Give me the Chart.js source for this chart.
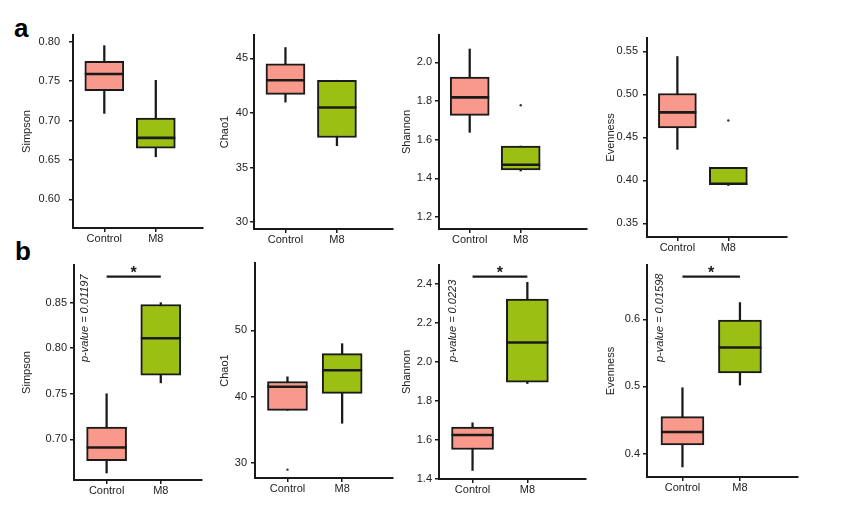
<!DOCTYPE html>
<html>
<head>
<meta charset="utf-8">
<script src="https://cdn.jsdelivr.net/npm/chart.js@4.4.1/dist/chart.umd.min.js"></script>
<style>
  html, body { margin: 0; padding: 0; background: #fff; }
  #wrap { position: relative; width: 842px; height: 514px; overflow: hidden; font-family: "Liberation Sans", Arial, sans-serif; }
  #wrap canvas { position: absolute; }
  .tag { position: absolute; font-weight: bold; font-size: 26px; line-height: 1; color: #000; }
</style>
</head>
<body>
<div id="wrap">
  <div class="tag" style="left:14px;top:15px">a</div>
  <div class="tag" style="left:15px;top:238px">b</div>
</div>
<script>
const groups = ["Control", "M8"];

// [lower whisker, Q1, median, Q3, upper whisker]
const aSimpsonControl = [0.709, 0.738, 0.759, 0.775, 0.795];
const aSimpsonM8 = [0.654, 0.665, 0.678, 0.703, 0.751];
const aChao1Control = [41.0, 41.7, 43.0, 44.5, 46.0];
const aChao1M8 = [37.0, 37.75, 40.5, 43.0, 43.0];
const aShannonControl = [1.638, 1.726, 1.819, 1.924, 2.069];
const aShannonM8 = [1.438, 1.443, 1.470, 1.567, 1.567];
const aEvennessControl = [0.436, 0.461, 0.479, 0.501, 0.544];
const aEvennessM8 = [0.394, 0.395, 0.396, 0.415, 0.415];

const bSimpsonControl = [0.663, 0.6765, 0.691, 0.7135, 0.750];
const bSimpsonM8 = [0.762, 0.7705, 0.811, 0.848, 0.850];
const bChao1Control = [37.95, 37.95, 41.5, 42.3, 43.0];
const bChao1M8 = [36.0, 40.5, 44.0, 46.5, 48.0];
const bShannonControl = [1.442, 1.550, 1.624, 1.665, 1.687];
const bShannonM8 = [1.889, 1.896, 2.10, 2.324, 2.41];
const bEvennessControl = [0.380, 0.413, 0.432, 0.455, 0.498];
const bEvennessM8 = [0.502, 0.520, 0.558, 0.599, 0.625];

// outliers per group [Control, M8]
const aShannonOutliers = [[], [1.778]];
const aEvennessOutliers = [[], [0.4695]];
const bChao1Outliers = [[29.0], []];

// y tick labels
const aSimpsonTicks = ["0.60", "0.65", "0.70", "0.75", "0.80"];
const aChao1Ticks = ["30", "35", "40", "45"];
const aShannonTicks = ["1.2", "1.4", "1.6", "1.8", "2.0"];
const aEvennessTicks = ["0.35", "0.40", "0.45", "0.50", "0.55"];
const bSimpsonTicks = ["0.70", "0.75", "0.80", "0.85"];
const bChao1Ticks = ["30", "40", "50"];
const bShannonTicks = ["1.4", "1.6", "1.8", "2.0", "2.2", "2.4"];
const bEvennessTicks = ["0.4", "0.5", "0.6"];

// significance bar heights and p-values (row b)
const bSimpsonSig = 0.8786;
const bShannonSig = 2.439;
const bEvennessSig = 0.6636;
const bSimpsonP = "0.01197";
const bShannonP = "0.0223";
const bEvennessP = "0.01598";

const fillColors = ["#F9998B", "#9CBF14"];
const ink = "#1a1a1a";
const fontFamily = '"Liberation Sans", Arial, sans-serif';

const panels = [
  { title: "Simpson", data: [aSimpsonControl, aSimpsonM8], out: [[], []], ticks: aSimpsonTicks,
    y: [0.5636, 0.8085], x: [0.392, 2.917], box: [73, 35, 203, 228], titleX: 27, bw: 39, pad: 9 },
  { title: "Chao1", data: [aChao1Control, aChao1M8], out: [[], []], ticks: aChao1Ticks,
    y: [29.36, 47.15], x: [0.389, 3.089], box: [254, 35, 393, 229], titleX: 225, bw: 39, pad: 2 },
  { title: "Shannon", data: [aShannonControl, aShannonM8], out: aShannonOutliers, ticks: aShannonTicks,
    y: [1.138, 2.1415], x: [0.398, 3.30], box: [439, 35, 587, 229], titleX: 407, bw: 39, pad: 3 },
  { title: "Evenness", data: [aEvennessControl, aEvennessM8], out: aEvennessOutliers, ticks: aEvennessTicks,
    y: [0.334, 0.5656], x: [0.404, 3.151], box: [647, 38, 787, 237], titleX: 611, bw: 38, pad: 5 },
  { title: "Simpson", data: [bSimpsonControl, bSimpsonM8], out: [[], []], ticks: bSimpsonTicks,
    y: [0.6553, 0.8914], x: [0.398, 2.761], box: [74, 265, 202, 480], titleX: 27, bw: 40, pad: 3,
    sig: bSimpsonSig, p: bSimpsonP, pX: 0.6 },
  { title: "Chao1", data: [bChao1Control, bChao1M8], out: bChao1Outliers, ticks: bChao1Ticks,
    y: [27.74, 60.17], x: [0.406, 2.93], box: [255, 263, 393, 478], titleX: 225, bw: 40, pad: 4 },
  { title: "Shannon", data: [bShannonControl, bShannonM8], out: [[], []], ticks: bShannonTicks,
    y: [1.398, 2.499], x: [0.388, 3.07], box: [439, 265, 586, 479], titleX: 407, bw: 42, pad: 3,
    sig: bShannonSig, p: bShannonP, pX: 0.645 },
  { title: "Evenness", data: [bEvennessControl, bEvennessM8], out: [[], []], ticks: bEvennessTicks,
    y: [0.365, 0.681], x: [0.383, 3.01], box: [647, 265, 798, 477], titleX: 611, bw: 43, pad: 3,
    sig: bEvennessSig, p: bEvennessP, pX: 0.614 }
];

// star and p-value text
const sigText = {
  id: "sigText",
  afterDatasetsDraw(chart, args, opts) {
    if (opts.sig == null) return;
    const { ctx, chartArea } = chart;
    const xs = chart.scales.x, ys = chart.scales.y;
    ctx.save();
    ctx.fillStyle = ink;
    ctx.font = "bold 16px " + fontFamily;
    ctx.textAlign = "center";
    ctx.textBaseline = "alphabetic";
    ctx.fillText("*", xs.getPixelForValue(1.5), ys.getPixelForValue(opts.sig) + 1);
    ctx.translate(xs.getPixelForValue(opts.pX), chartArea.top + 97);
    ctx.rotate(-Math.PI / 2);
    ctx.font = "italic 11px " + fontFamily;
    ctx.fillStyle = "#222";
    ctx.textAlign = "left";
    ctx.textBaseline = "middle";
    ctx.fillText("p-value = " + opts.p, 0, 0);
    ctx.restore();
  }
};

const wrap = document.getElementById("wrap");

panels.forEach((p) => {
  const [l, t, r, b] = p.box;
  const left = Math.round(p.titleX - 6.6);
  const yw = l - left;
  const top = t - 20;
  const w = yw + (r - l) + 4;
  const h = (b - t) + 20 + 25;
  const cv = document.createElement("canvas");
  cv.width = w;
  cv.height = h;
  cv.style.left = left + "px";
  cv.style.top = top + "px";
  cv.style.width = w + "px";
  cv.style.height = h + "px";
  wrap.appendChild(cv);

  const tickVals = p.ticks.map(Number);
  const datasets = [
    {
      type: "bar", order: 4, grouped: false, barThickness: 1.6,
      data: p.data.map((d, i) => ({ x: i + 1, y: [d[0], d[4]] })),
      backgroundColor: ink, borderWidth: 0
    },
    {
      type: "bar", order: 3, grouped: false, barThickness: p.bw,
      data: p.data.map((d, i) => ({ x: i + 1, y: [d[1], d[3]] })),
      backgroundColor: fillColors, borderColor: ink, borderWidth: 2, borderSkipped: false
    },
    {
      type: "scatter", order: 2,
      data: p.data.map((d, i) => ({ x: i + 1, y: d[2] })),
      pointStyle: "line", pointRadius: p.bw / 2, pointBorderWidth: 2.6,
      pointBorderColor: ink, pointHoverRadius: p.bw / 2
    },
    {
      type: "scatter", order: 1,
      data: p.out.flatMap((vals, i) => vals.map((v) => ({ x: i + 1, y: v }))),
      pointRadius: 1.2, pointBackgroundColor: "#333", pointBorderWidth: 0
    }
  ];
  if (p.sig != null) {
    datasets.push({
      type: "line", order: 0,
      data: [{ x: 1, y: p.sig }, { x: 2, y: p.sig }],
      borderColor: ink, borderWidth: 2.2, pointRadius: 0
    });
  }

  new Chart(cv, {
    type: "bar",
    data: { datasets },
    options: {
      responsive: false,
      animation: false,
      events: [],
      layout: { autoPadding: false, padding: { top: 20, right: 4, left: 0, bottom: 0 } },
      plugins: {
        legend: { display: false },
        tooltip: { enabled: false },
        sigText: { sig: p.sig, p: p.p, pX: p.pX }
      },
      scales: {
        x: {
          type: "linear",
          min: p.x[0],
          max: p.x[1],
          offset: false,
          afterBuildTicks: (s) => { s.ticks = [{ value: 1 }, { value: 2 }]; },
          afterFit: (s) => { s.height = 25; s.paddingLeft = 0; s.paddingRight = 0; },
          ticks: {
            autoSkip: false, padding: 0, color: "#222",
            font: { family: fontFamily, size: 11 },
            callback: (v, i) => groups[i]
          },
          grid: { display: true, offset: false, drawOnChartArea: false, drawTicks: true, tickLength: 4, color: ink, lineWidth: 1.5 },
          border: { display: true, color: ink, width: 2 }
        },
        y: {
          min: p.y[0],
          max: p.y[1],
          afterBuildTicks: (s) => { s.ticks = tickVals.map((v) => ({ value: v })); },
          afterFit: (s) => { s.width = yw; s.paddingTop = 0; s.paddingBottom = 0; },
          ticks: {
            autoSkip: false, padding: p.pad, color: "#222",
            font: { family: fontFamily, size: 11 },
            callback: (v, i) => p.ticks[i]
          },
          grid: { display: true, drawOnChartArea: false, drawTicks: true, tickLength: 4, color: ink, lineWidth: 1.5 },
          border: { display: true, color: ink, width: 2 },
          title: {
            display: true, text: p.title, color: "#222", padding: 0,
            font: { family: fontFamily, size: 11 }
          }
        }
      }
    },
    plugins: [sigText]
  });
});
</script>
</body>
</html>
